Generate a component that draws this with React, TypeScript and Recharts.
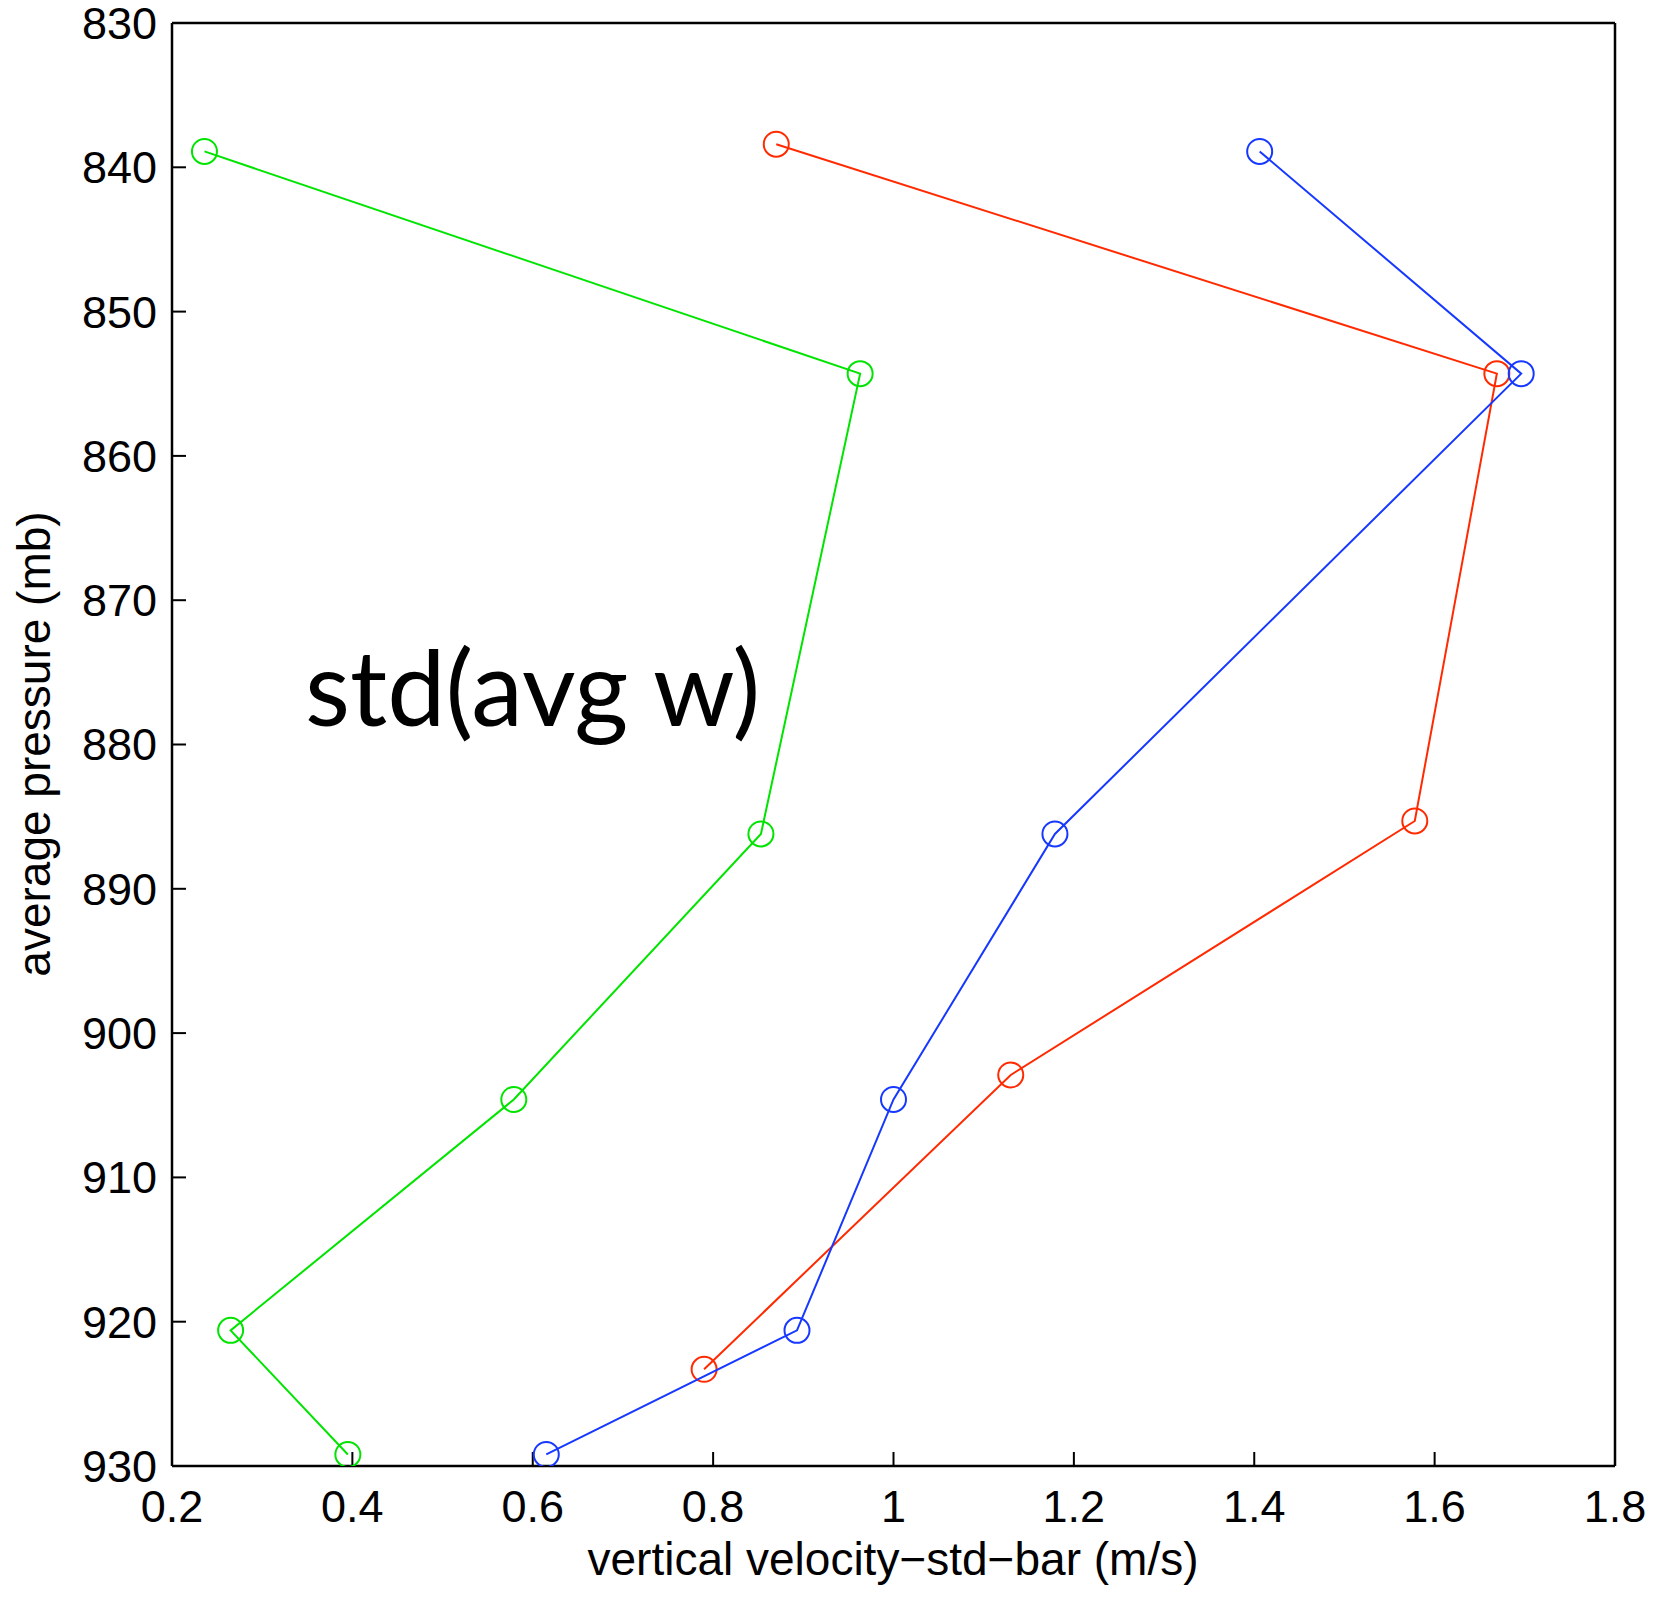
// vertical velocity std profiles vs pressure
import React from 'react'
import { ScatterChart, Scatter, XAxis, YAxis, Label, Customized } from 'recharts'

const xTicks = [0.2, 0.4, 0.6, 0.8, 1, 1.2, 1.4, 1.6, 1.8]
const xTickLabels = ['0.2', '0.4', '0.6', '0.8', '1', '1.2', '1.4', '1.6', '1.8']
const yTicks = [830, 840, 850, 860, 870, 880, 890, 900, 910, 920, 930]

const greenVel = [0.236, 0.963, 0.853, 0.579, 0.265, 0.395]
const greenPres = [838.9, 854.3, 886.2, 904.6, 920.6, 929.2]

const redVel = [0.87, 1.669, 1.578, 1.13, 0.79]
const redPres = [838.4, 854.3, 885.3, 902.9, 923.3]

const blueVel = [1.406, 1.696, 1.179, 1.0, 0.893, 0.615]
const bluePres = [838.9, 854.3, 886.2, 904.6, 920.6, 929.2]

const GREEN = '#00e400'
const RED = '#ff2a00'
const BLUE = '#1638ff'

const toPoints = (vel: number[], pres: number[]) => vel.map((v, i) => ({ x: v, y: pres[i] }))

const font = '"Liberation Sans", Arial, Helvetica, sans-serif'

const ring = (color: string) => (props: any) => (
  <circle cx={props.cx} cy={props.cy} r={12.5} fill="none" stroke={color} strokeWidth={2} />
)

const YTitle = () => (
  <text
    x={50}
    y={744}
    transform="rotate(-90 50 744)"
    textAnchor="middle"
    fontFamily={font}
    fontSize={46}
    fill="#000"
  >
    average pressure (mb)
  </text>
)

const XTitle = () => (
  <text x={893} y={1575} textAnchor="middle" fontFamily={font} fontSize={46} fill="#000">
    vertical velocity−std−bar (m/s)
  </text>
)

const Note = () => (
  <text x={305} y={726} fontFamily="Lato, 'Open Sans', sans-serif" fontSize={104} fill="#000">
    std(avg w)
  </text>
)

const App: React.FC = () => {
  const tickStyle = { fontFamily: font, fontSize: 45, fill: '#000' }
  const axisLine = { stroke: '#000', strokeWidth: 2.5 }
  const tickLine = { stroke: '#000', strokeWidth: 2 }

  return (
    <div style={{ position: 'absolute', left: 0, top: 0 }}>
      <ScatterChart width={1667} height={1598} margin={{ top: 22, right: 51, bottom: 32, left: 72 }}>
        <XAxis
          type="number"
          dataKey="x"
          domain={[0.2, 1.8]}
          ticks={xTicks}
          interval={0}
          tickFormatter={(v: number) => xTickLabels[xTicks.indexOf(v)] ?? String(v)}
          allowDataOverflow
          height={100}
          tickSize={-14}
          tickMargin={38}
          tick={tickStyle}
          axisLine={axisLine}
          tickLine={tickLine}
        >
          <Label content={<XTitle />} />
        </XAxis>
        <XAxis
          xAxisId="top"
          orientation="top"
          type="number"
          domain={[0.2, 1.8]}
          ticks={xTicks}
          interval={0}
          allowDataOverflow
          height={1}
          tickSize={-14}
          tick={false}
          axisLine={axisLine}
          tickLine={tickLine}
        />
        <YAxis
          type="number"
          dataKey="y"
          domain={[830, 930]}
          ticks={yTicks}
          interval={0}
          reversed
          allowDataOverflow
          width={100}
          tickSize={-14}
          tickMargin={29}
          tick={tickStyle}
          axisLine={axisLine}
          tickLine={tickLine}
        >
          <Label content={<YTitle />} />
        </YAxis>
        <YAxis
          yAxisId="right"
          orientation="right"
          type="number"
          domain={[830, 930]}
          ticks={yTicks}
          interval={0}
          reversed
          allowDataOverflow
          width={1}
          tickSize={-14}
          tick={false}
          axisLine={axisLine}
          tickLine={tickLine}
        />
        <Scatter
          data={toPoints(greenVel, greenPres)}
          fill="none"
          line={{ stroke: GREEN, strokeWidth: 2 }}
          shape={ring(GREEN)}
          isAnimationActive={false}
        />
        <Scatter
          data={toPoints(redVel, redPres)}
          fill="none"
          line={{ stroke: RED, strokeWidth: 2 }}
          shape={ring(RED)}
          isAnimationActive={false}
        />
        <Scatter
          data={toPoints(blueVel, bluePres)}
          fill="none"
          line={{ stroke: BLUE, strokeWidth: 2 }}
          shape={ring(BLUE)}
          isAnimationActive={false}
        />
        <Customized component={Note} />
      </ScatterChart>
    </div>
  )
}

export default App
